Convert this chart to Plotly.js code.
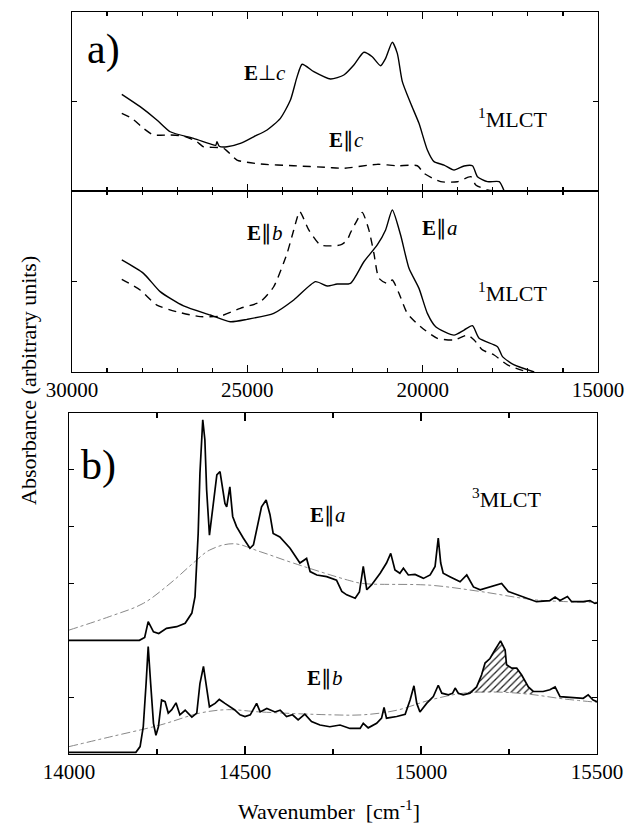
<!DOCTYPE html>
<html>
<head>
<meta charset="utf-8">
<script src="https://cdn.plot.ly/plotly-3.0.1.min.js"></script>
<style>html,body{margin:0;padding:0;background:#fff;}#chart{width:628px;height:824px;}</style>
</head>
<body>
<div id="chart"></div>
<script>
// ---- Panel a (upper): E perpendicular c (solid), E parallel c (dashed) ----
const perpCX = [28580,28057,27580,27200,26533,26057,25900,25866,25800,25580,25200,24820,24437,24057,23771,23580,23437,23105,22629,22248,21962,21676,21438,21200,21057,20866,20723,20580,20343,20105,19866,19676,19390,19105,18819,18581,18438,18152,17819,17676];
const perpCY = [54.0,47.1,39.7,33.1,29.4,26.3,25.5,27.5,25.0,24.7,26.6,30.3,34.1,40.6,50.8,63.9,70.8,66.7,62.6,64.8,70.4,77.5,75.0,70.0,74.1,83.1,76.9,61.1,49.0,37.8,22.9,16.4,14.5,11.7,14.0,14.1,8.0,5.2,5.2,0];
const parCX = [28580,28295,27962,27676,27200,26819,26438,26248,25676,25295,24629,23676,22724,22248,21295,20723,20152,19962,19486,19010,18629,18486,18152,17867];
const parCY = [43.4,40.6,35.0,31.3,31.3,30.7,27.5,24.7,23.9,17.3,15.1,14.1,13.2,12.7,14.9,14.1,14.1,9.9,5.2,5.2,8.0,3.4,0.6,0];

// ---- Panel a (lower): E parallel a (solid), E parallel b (dashed) ----
const parAX = [28580,27962,27486,26819,26057,25486,25010,24248,23676,23057,22724,22438,22057,21676,21295,21057,20866,20629,20390,20105,19866,19629,19105,18819,18581,18390,17867,17724,17390,16819];
const parAY = [61.9,54.5,44.4,36.5,31.5,27.8,29.1,32.4,39.8,49.9,47.5,48.6,49.0,60.9,70.2,78.5,89.5,75.7,57.3,46.2,32.4,25.0,20.4,23.2,25.6,18.6,14.0,8.5,3.9,0];
const parBX = [28580,28057,27580,27010,26343,25772,25200,24629,24248,23866,23676,23505,23248,22914,22343,22152,22057,21914,21724,21534,21391,21248,21010,20866,20676,20438,20057,19581,19105,18724,18533,18295,17962,17581,17010];
const parBY = [51.2,45.3,37.0,33.3,30.6,30.9,35.2,38.8,47.1,65.6,78.5,88.6,78.5,70.2,70.2,72.9,77.0,82.2,88.2,78.5,65.6,51.8,49.0,50.8,43.5,32.4,25.0,18.6,17.7,20.4,17.7,12.2,9.4,3.9,0];

// ---- Panel b: 3MLCT, E parallel a ----
const bAX = [14000,14200,14215,14225,14240,14255,14277,14306,14330,14349,14358,14363,14367,14372,14380,14386,14391,14399,14410,14420,14429,14443,14448,14457,14465,14476,14495,14514,14524,14533,14541,14547,14560,14571,14580,14599,14628,14656,14675,14685,14704,14732,14760,14775,14789,14813,14825,14836,14846,14860,14884,14902,14914,14926,14940,14950,14964,14983,15007,15026,15040,15045,15049,15056,15063,15082,15111,15130,15149,15168,15196,15229,15248,15281,15328,15366,15381,15395,15416,15428,15461,15480,15494,15500];
const bAY = [2.0,2.0,2.05,2.33,2.15,2.12,2.21,2.24,2.30,2.48,2.77,3.30,3.88,4.94,5.88,5.53,4.65,3.85,4.41,4.91,4.97,4.41,4.35,4.70,4.18,4.00,3.80,3.62,3.68,3.94,4.18,4.35,4.47,4.21,3.88,3.82,3.62,3.36,3.44,3.21,3.15,3.12,3.06,2.86,2.80,2.74,2.85,3.30,2.89,2.98,3.18,3.36,3.53,3.24,3.18,3.27,3.15,3.16,3.09,3.15,3.30,3.53,3.80,3.36,3.18,3.12,3.03,3.15,2.94,2.89,2.94,3.00,2.86,2.78,2.68,2.70,2.76,2.70,2.77,2.68,2.68,2.70,2.65,2.66];
const fitAX = [14000,14116,14211,14287,14353,14400,14467,14543,14637,14798,14835,15026,15168,15328,15500];
const fitAY = [2.18,2.42,2.65,3.00,3.36,3.59,3.70,3.56,3.36,3.05,3.00,2.97,2.86,2.71,2.67];

// ---- Panel b: E parallel b ----
const bBX = [14000,14190,14202,14211,14219,14225,14232,14240,14247,14254,14263,14273,14282,14292,14304,14315,14330,14349,14363,14372,14382,14391,14399,14415,14427,14443,14457,14470,14486,14500,14515,14533,14543,14562,14585,14600,14618,14635,14651,14670,14689,14713,14741,14770,14798,14827,14836,14850,14874,14888,14895,14902,14931,14955,14969,14980,14988,14997,15016,15035,15049,15059,15078,15090,15097,15106,15120,15139,15158,15172,15182,15196,15210,15226,15239,15243,15258,15272,15286,15305,15319,15347,15366,15381,15395,15423,15461,15475,15489,15500];
const bBY = [0.03,0.03,0.13,0.48,1.24,1.89,1.24,0.54,0.33,0.48,0.95,0.92,0.72,0.78,0.90,0.69,0.77,0.65,0.72,1.24,1.54,1.18,0.83,0.89,0.96,0.89,0.83,0.78,0.69,0.66,0.69,0.89,0.74,0.80,0.74,0.77,0.66,0.69,0.60,0.70,0.57,0.51,0.48,0.51,0.45,0.45,0.54,0.46,0.54,0.63,0.82,0.63,0.66,0.70,0.95,1.20,0.89,0.74,0.89,1.01,1.21,1.07,1.04,1.07,1.16,1.07,1.04,1.07,1.18,1.39,1.60,1.68,1.83,1.99,1.83,1.57,1.51,1.51,1.39,1.18,1.10,1.10,1.13,1.18,1.01,1.00,0.98,1.04,0.95,0.92];
const fitBX = [14000,14116,14259,14372,14450,14543,14741,14836,14931,15026,15120,15215,15310,15404,15500];
const fitBY = [0.13,0.30,0.51,0.72,0.78,0.74,0.69,0.69,0.77,0.95,1.07,1.09,1.05,0.97,0.91];

// hatched band
const hatchX = [15130,15158,15172,15182,15196,15210,15226,15239,15243,15258,15272,15286,15305,15319];
const hatchTop = [1.07,1.18,1.39,1.60,1.68,1.83,1.99,1.83,1.57,1.51,1.51,1.39,1.18,1.10];
const hatchBase = [1.07,1.08,1.08,1.08,1.09,1.09,1.09,1.09,1.09,1.08,1.08,1.07,1.06,1.05];

// ticks
const aTicks = [30000,25000,20000,15000];
const bTicks = [14000,14500,15000,15500];

const W = 628, H = 824;
const px = v => v / W, py = v => 1 - v / H;
const FONT = 'Liberation Serif';

const solid = {color:'#000', width:1.4, shape:'spline', smoothing:0.6};
const dashed = {color:'#000', width:1.4, dash:'8px,6px', shape:'spline', smoothing:0.6};
const fitLine = {color:'#888', width:1, dash:'dashdot', shape:'spline'};

const traces = [
  {x:perpCX, y:perpCY, xaxis:'x3', yaxis:'y', mode:'lines', line:solid},
  {x:parCX, y:parCY, xaxis:'x3', yaxis:'y', mode:'lines', line:dashed},
  {x:parAX, y:parAY, xaxis:'x', yaxis:'y2', mode:'lines', line:solid},
  {x:parBX, y:parBY, xaxis:'x', yaxis:'y2', mode:'lines', line:dashed},
  {x:fitAX, y:fitAY, xaxis:'x2', yaxis:'y3', mode:'lines', line:fitLine},
  {x:fitBX, y:fitBY, xaxis:'x2', yaxis:'y3', mode:'lines', line:fitLine},
  {x:hatchX.concat(hatchX.slice().reverse()), y:hatchTop.concat(hatchBase.slice().reverse()),
   xaxis:'x2', yaxis:'y3', mode:'lines', fill:'toself', line:{width:0, color:'rgba(0,0,0,0)'},
   fillcolor:'rgba(0,0,0,0)', fillpattern:{shape:'/', fgcolor:'#222', bgcolor:'rgba(0,0,0,0)', size:5, solidity:0.25}},
  {x:bAX, y:bAY, xaxis:'x2', yaxis:'y3', mode:'lines', line:{color:'#000', width:1.7}},
  {x:bBX, y:bBY, xaxis:'x2', yaxis:'y3', mode:'lines', line:{color:'#000', width:1.7}}
];

const axBase = {showline:true, linecolor:'#000', linewidth:1.3, mirror:'allticks', ticks:'inside',
  tickcolor:'#000', tickwidth:1.2, showgrid:false, zeroline:false, fixedrange:true,
  tickfont:{family:FONT, size:21, color:'#000'}};

function ann(text, x, y, size, extra) {
  return Object.assign({text:text, x:px(x), y:py(y), xref:'paper', yref:'paper', showarrow:false,
    xanchor:'center', yanchor:'middle', font:{family:FONT, size:size, color:'#000'}}, extra || {});
}

const layout = {
  width:W, height:H, margin:{l:0, r:0, t:0, b:0}, showlegend:false,
  paper_bgcolor:'#fff', plot_bgcolor:'#fff',
  font:{family:FONT, color:'#000'},
  xaxis: Object.assign({}, axBase, {domain:[px(72), px(598)], anchor:'y2', range:[30000,15000],
    tickvals:aTicks, ticktext:aTicks.map(String), ticklen:7, ticklabelstandoff:-2,
    minor:{dtick:1000, tick0:0, ticks:'inside', ticklen:4, tickcolor:'#000', tickwidth:1.2, showgrid:false}}),
  xaxis3: Object.assign({}, axBase, {domain:[px(72), px(598)], anchor:'y', range:[30000,15000],
    tickvals:aTicks, showticklabels:false, ticklen:7,
    minor:{dtick:1000, tick0:0, ticks:'inside', ticklen:4, tickcolor:'#000', tickwidth:1.2, showgrid:false}}),
  yaxis: Object.assign({}, axBase, {domain:[py(191), py(12)], anchor:'x3', range:[0,100], tickvals:[50], showticklabels:false, ticklen:5}),
  yaxis2: Object.assign({}, axBase, {domain:[py(372), py(191)], anchor:'x', range:[0,100], tickvals:[50], showticklabels:false, ticklen:5}),
  xaxis2: Object.assign({}, axBase, {domain:[px(69), px(597)], anchor:'y3', range:[14000,15500],
    tickvals:bTicks, ticktext:bTicks.map(String), ticklen:8, ticklabelstandoff:-2,
    minor:{dtick:250, tick0:14000, ticks:'inside', ticklen:5, tickcolor:'#000', tickwidth:1.2, showgrid:false}}),
  yaxis3: Object.assign({}, axBase, {domain:[py(754), py(413)], anchor:'x2', range:[0,6], tickvals:[1,2,3,4,5], showticklabels:false, ticklen:5}),
  annotations: [
    ann('a)', 103, 50, 42),
    ann('b)', 98, 465, 42),
    ann('<b>E</b>⊥<i>c</i>', 265, 73, 21),
    ann('<b>E</b>∥<i>c</i>', 346, 140, 21),
    ann('<sup>1</sup>MLCT', 512, 118, 22),
    ann('<b>E</b>∥<i>b</i>', 265, 233, 21),
    ann('<b>E</b>∥<i>a</i>', 440, 228, 21),
    ann('<sup>1</sup>MLCT', 512, 292, 22),
    ann('<sup>3</sup>MLCT', 506, 498, 22),
    ann('<b>E</b>∥<i>a</i>', 328, 515, 21),
    ann('<b>E</b>∥<i>b</i>', 325, 678, 21),
    ann('Wavenumber  [cm<sup>-1</sup>]', 329, 810, 22),
    ann('Absorbance (arbitrary units)', 29, 381, 22, {textangle:-90})
  ]
};

Plotly.newPlot('chart', traces, layout, {staticPlot:true, displayModeBar:false});
</script>
</body>
</html>
